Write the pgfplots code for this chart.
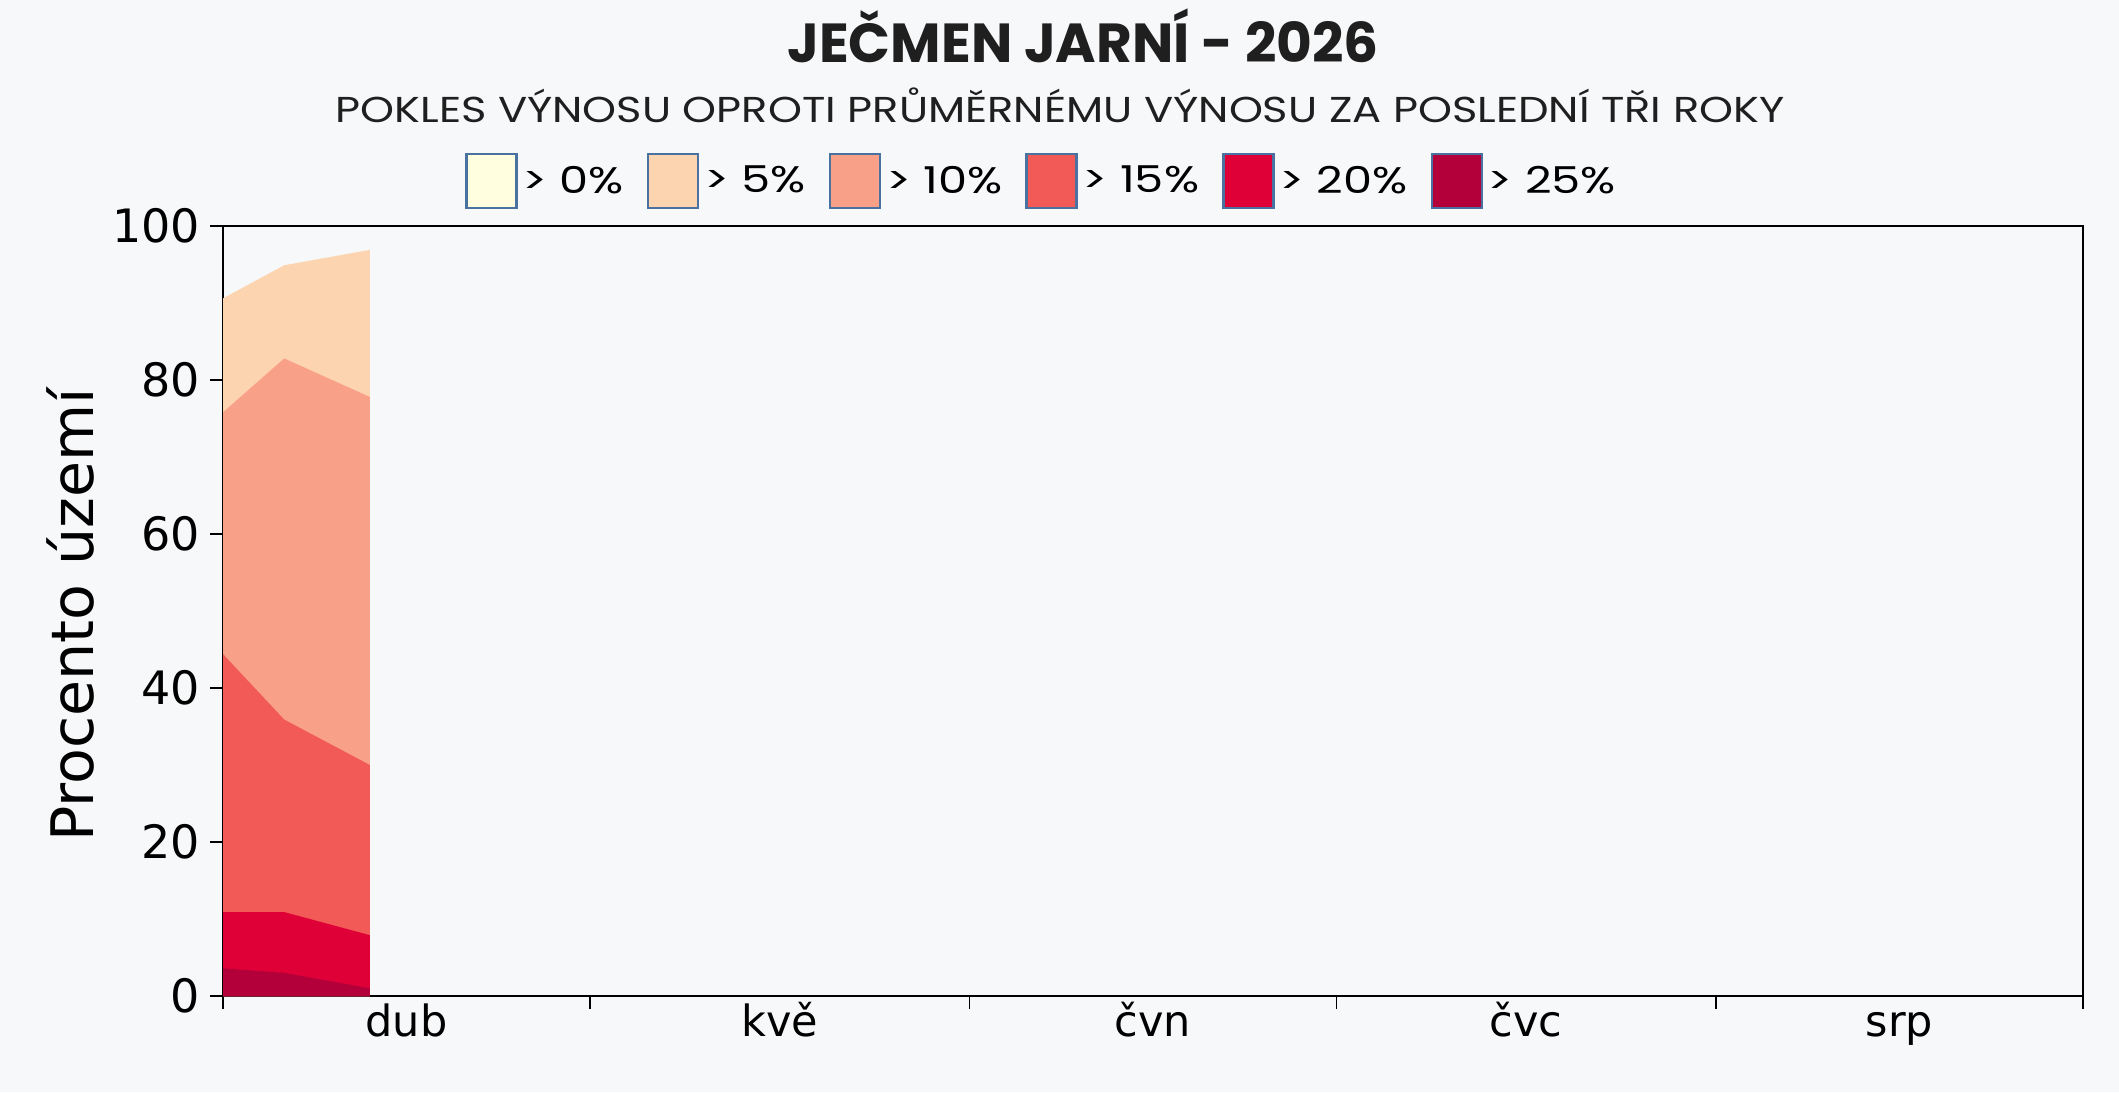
\documentclass[border=0pt]{standalone}
\usepackage{fontspec}
\setmainfont{DejaVu Sans}
\newfontfamily\pop{Poppins}
\newfontfamily\popw{Poppins}[FakeStretch=1.2]
\newfontfamily\popl{Poppins}[FakeStretch=1.25]
\usepackage{pgfplots}
\pgfplotsset{compat=1.18}
\definecolor{bg}{RGB}{247,248,250}
\definecolor{cA}{RGB}{255,255,224}
\definecolor{cB}{RGB}{253,212,176}
\definecolor{cC}{RGB}{249,160,136}
\definecolor{cD}{RGB}{241,90,87}
\definecolor{cE}{RGB}{222,0,55}
\definecolor{cF}{RGB}{179,0,58}
\definecolor{lb}{RGB}{74,114,160}
\begin{document}
\begin{tikzpicture}[x=1pt,y=1pt]
\fill[bg] (0,0) rectangle (1059.5,546);
\begin{axis}[at={(111.5pt,48pt)}, anchor=south west, scale only axis,
  width=930pt, height=385pt,
  xmin=0, xmax=152, ymin=0, ymax=100,
  axis background/.style={fill=bg},
  axis line style={black, line width=1pt},
  tick align=outside,
  xtick pos=bottom, ytick pos=left,
  major tick length=6.5pt,
  tick style={black, line width=0.9pt},
  xtick={0,30,61,91,122,152},
  xticklabels={dub,kvě,čvn,čvc,srp},
  x tick label as interval,
  ytick={0,20,40,60,80,100},
  xticklabel style={font=\fontsize{21.5}{26}\selectfont, text height=16pt, text depth=5pt, yshift=6pt},
  yticklabel style={font=\fontsize{23}{27}\selectfont, xshift=-1.5pt},
  /pgf/number format/assume math mode=true,
  legend style={at={(0.4409,1.0584)}, anchor=center, draw=none, fill=none,
    legend columns=6, font=\popl\fontsize{18.5}{22}\selectfont,
    nodes={inner xsep=2.5pt},
    /tikz/every even column/.append style={column sep=9pt}},
  legend image code/.code={\draw[#1,draw=lb,line width=1.2pt] (0pt,-13.5pt) rectangle (25pt,13.5pt);},
]
\addlegendimage{fill=cA}
\addlegendentry{> 0\%}
\addplot[fill=cB, draw=none] coordinates {(0,90.6) (5,94.9) (12,96.9)} \closedcycle;
\addlegendentry{> 5\%}
\addplot[fill=cC, draw=none] coordinates {(0,75.8) (5,82.8) (12,77.8)} \closedcycle;
\addlegendentry{> 10\%}
\addplot[fill=cD, draw=none] coordinates {(0,44.4) (5,35.9) (12,30.0)} \closedcycle;
\addlegendentry{> 15\%}
\addplot[fill=cE, draw=none] coordinates {(0,10.9) (5,10.9) (12,7.9)} \closedcycle;
\addlegendentry{> 20\%}
\addplot[fill=cF, draw=none] coordinates {(0,3.6) (5,3.0) (12,1.0)} \closedcycle;
\addlegendentry{> 25\%}
\end{axis}
\node[anchor=base, font=\pop\bfseries\fontsize{27.5}{32}\selectfont, text=black!88] at (541.5,514.5) {JEČMEN JARNÍ - 2026};
\node[anchor=base, font=\popw\fontsize{18}{22}\selectfont, text=black!88] at (530,484.5) {POKLES VÝNOSU OPROTI PRŮMĚRNÉMU VÝNOSU ZA POSLEDNÍ TŘI ROKY};
\node[rotate=90, font=\fontsize{29.3}{34}\selectfont] at (35,238.5) {Procento území};
\pgfresetboundingbox
\path[use as bounding box] (0,0) rectangle (1059.5,546);
\end{tikzpicture}
\end{document}
